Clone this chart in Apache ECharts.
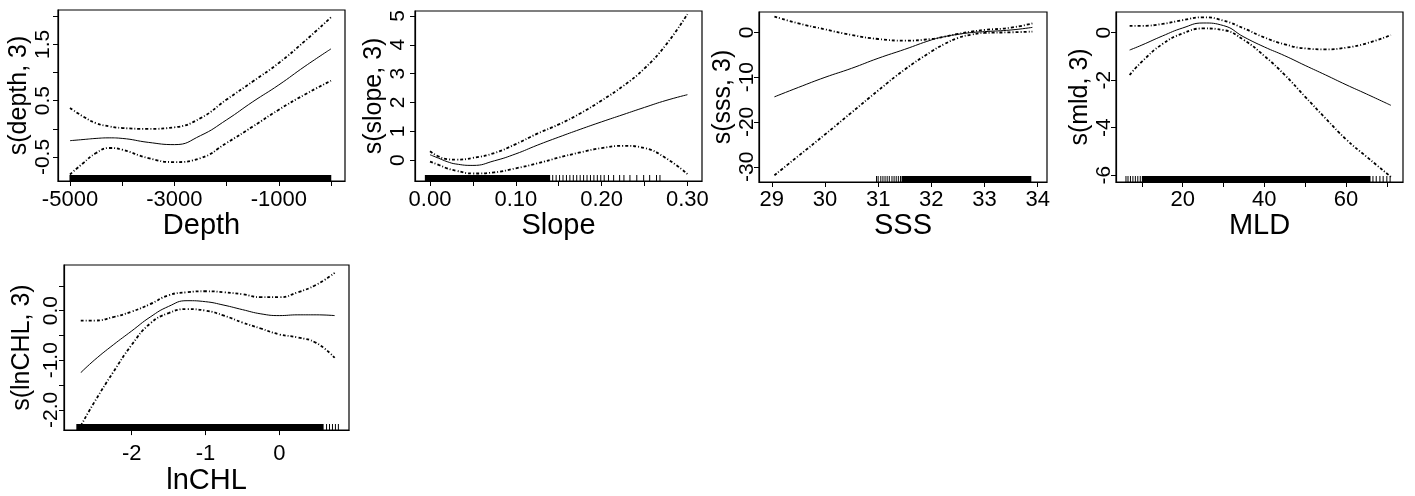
<!DOCTYPE html>
<html>
<head>
<meta charset="utf-8">
<script src="https://cdn.jsdelivr.net/npm/echarts@6/dist/echarts.min.js"></script>
<style>
html,body{margin:0;padding:0;background:#fff;}
#chart{width:1415px;height:496px;}
</style>
</head>
<body>
<div id="chart"></div>
<script>
// ---------- Panel 1: Depth ----------
const depthX     = [-5000,-4750,-4500,-4250,-4000,-3500,-3000,-2500,-2000,-1500,-1000,-500,0];
const depthFit   = [-0.21,-0.19,-0.17,-0.16,-0.17,-0.24,-0.28,-0.12,0.16,0.48,0.78,1.11,1.42];
const depthUpper = [0.37,0.22,0.10,0.045,0.015,0.0,0.027,0.19,0.52,0.84,1.17,1.56,1.98];
const depthLower = [-0.81,-0.61,-0.43,-0.34,-0.37,-0.52,-0.59,-0.52,-0.25,0.04,0.34,0.61,0.855];
const depthRugBands = [[-5010,5]];
const depthRugTicks = [];
const depthXTicks = [-5000,-4000,-3000,-2000,-1000,0];
const depthXLabels = [-5000,-3000,-1000];
const depthYTicks = [-0.5,0,0.5,1,1.5,2];
const depthYLabels = [-0.5,0.5,1.5];

// ---------- Panel 2: Slope ----------
const slopeX     = [0,0.01,0.02,0.03,0.05,0.075,0.10,0.125,0.15,0.175,0.20,0.225,0.25,0.275,0.30];
const slopeFit   = [0.19,0.07,-0.05,-0.13,-0.18,-0.02,0.22,0.52,0.80,1.07,1.33,1.58,1.83,2.07,2.27];
const slopeUpper = [0.31,0.13,0.035,0.02,0.08,0.25,0.56,0.92,1.24,1.62,2.07,2.57,3.18,4.0,5.06];
const slopeLower = [-0.05,-0.16,-0.28,-0.36,-0.46,-0.42,-0.28,-0.11,0.09,0.27,0.42,0.50,0.42,0.07,-0.48];
const slopeRugBands = [[-0.006,0.14]];
const slopeRugTicks = [0.143,0.147,0.151,0.155,0.159,0.163,0.167,0.171,0.175,0.179,0.183,0.187,0.191,0.195,0.199,0.203,0.208,0.214,0.221,0.226,0.233,0.241,0.249,0.256,0.264,0.268];
const slopeXTicks = [0,0.05,0.10,0.15,0.20,0.25,0.30];
const slopeXLabels = [0,0.10,0.20,0.30];
const slopeYTicks = [0,1,2,3,4,5];
const slopeYLabels = [0,1,2,3,4,5];

// ---------- Panel 3: SSS ----------
const sssX     = [29.05,29.5,30,30.5,31,31.5,32,32.25,32.5,32.75,33,33.5,33.9];
const sssFit   = [-14.4,-12.3,-10.05,-8.04,-5.8,-3.8,-1.71,-0.97,-0.45,-0.07,0.15,0.52,1.1];
const sssUpper = [3.5,2.0,0.67,-0.6,-1.49,-1.86,-1.49,-0.97,-0.37,0.15,0.52,1.04,2.0];
const sssLower = [-31.9,-27.6,-22.8,-17.9,-13.0,-8.3,-4.3,-2.6,-1.27,-0.52,-0.15,0.0,0.15];
const sssRugBands = [[31.44,33.88]];
const sssRugTicks = [30.97,31.0,31.05,31.09,31.13,31.17,31.21,31.26,31.3,31.34,31.38,31.42];
const sssXTicks = [29,30,31,32,33,34];
const sssXLabels = [29,30,31,32,33,34];
const sssYTicks = [-30,-20,-10,0];
const sssYLabels = [-30,-20,-10,0];

// ---------- Panel 4: MLD ----------
const mldX     = [7,10,15,20,25,30,35,40,45,50,55,60,65,71];
const mldFit   = [-0.73,-0.52,-0.14,0.20,0.41,0.30,-0.18,-0.6,-0.97,-1.38,-1.78,-2.19,-2.58,-3.06];
const mldUpper = [0.29,0.29,0.37,0.53,0.65,0.51,0.18,-0.2,-0.49,-0.66,-0.70,-0.63,-0.45,-0.1];
const mldLower = [-1.78,-1.22,-0.48,-0.03,0.18,0.11,-0.31,-0.98,-1.78,-2.70,-3.61,-4.49,-5.22,-6.07];
const mldRugBands = [[10,66]];
const mldRugTicks = [6.1,6.6,7.2,7.8,8.4,9.0,9.6,66.6,67.4,68.3,69.1,70.0,70.8];
const mldXTicks = [10,20,30,40,50,60,70];
const mldXLabels = [20,40,60];
const mldYTicks = [-6,-4,-2,0];
const mldYLabels = [-6,-4,-2,0];

// ---------- Panel 5: lnCHL ----------
const chlX     = [-2.69,-2.5,-2.25,-2,-1.75,-1.5,-1.25,-1,-0.75,-0.5,-0.25,0,0.25,0.5,0.75];
const chlFit   = [-1.25,-0.99,-0.69,-0.41,-0.13,0.085,0.2,0.18,0.11,0.02,-0.065,-0.1,-0.085,-0.085,-0.1];
const chlUpper = [-0.2,-0.2,-0.13,-0.02,0.13,0.31,0.37,0.39,0.37,0.33,0.27,0.27,0.37,0.52,0.76];
const chlLower = [-2.32,-1.83,-1.24,-0.69,-0.26,-0.05,0.03,0.0,-0.1,-0.24,-0.36,-0.48,-0.54,-0.65,-0.95];
const chlRugBands = [[-2.75,0.6]];
const chlRugTicks = [0.64,0.68,0.72,0.76,0.80];
const chlXTicks = [-2,-1,0];
const chlXLabels = [-2,-1,0];
const chlYTicks = [-2,-1.5,-1,-0.5,0,0.5];
const chlYLabels = [-2,-1,0];

// ---------- Layout / styling ----------
const FONT = "'Liberation Sans', Arial, sans-serif";
const panels = [
  {grid:{left:58,top:10,width:287,height:171}, xr:[-5230,268], yr:[-0.926,2.11],
   xName:'Depth', yName:'s(depth, 3)', xDec:0, yDec:1,
   x:depthX, fit:depthFit, up:depthUpper, lo:depthLower, bands:depthRugBands, ticks:depthRugTicks,
   xt:depthXTicks, xl:depthXLabels, yt:depthYTicks, yl:depthYLabels,
   xm:8, xg:28, ym:4, yg:21},
  {grid:{left:415,top:11,width:287,height:170}, xr:[-0.0175,0.317], yr:[-0.72,5.17],
   xName:'Slope', yName:'s(slope, 3)', xDec:2, yDec:0,
   x:slopeX, fit:slopeFit, up:slopeUpper, lo:slopeLower, bands:slopeRugBands, ticks:slopeRugTicks,
   xt:slopeXTicks, xl:slopeXLabels, yt:slopeYTicks, yl:slopeYLabels,
   xm:8, xg:28, ym:6, yg:27},
  {grid:{left:759,top:12,width:288,height:170}, xr:[28.76,34.175], yr:[-33.4,4.53],
   xName:'SSS', yName:'s(sss, 3)', xDec:0, yDec:0,
   x:sssX, fit:sssFit, up:sssUpper, lo:sssLower, bands:sssRugBands, ticks:sssRugTicks,
   xt:sssXTicks, xl:sssXLabels, yt:sssYTicks, yl:sssYLabels,
   xm:7, xg:28, ym:1, yg:21},
  {grid:{left:1116,top:12,width:287,height:170}, xr:[3.66,73.96], yr:[-6.29,0.873],
   xName:'MLD', yName:'s(mld, 3)', xDec:0, yDec:0,
   x:mldX, fit:mldFit, up:mldUpper, lo:mldLower, bands:mldRugBands, ticks:mldRugTicks,
   xt:mldXTicks, xl:mldXLabels, yt:mldYTicks, yl:mldYLabels,
   xm:7, xg:28, ym:1, yg:20},
  {grid:{left:64,top:265,width:285,height:169}, xr:[-2.917,0.944], yr:[-2.407,0.919],
   xName:'lnCHL', yName:'s(lnCHL, 3)', xDec:0, yDec:1,
   x:chlX, fit:chlFit, up:chlUpper, lo:chlLower, bands:chlRugBands, ticks:chlRugTicks,
   xt:chlXTicks, xl:chlXLabels, yt:chlYTicks, yl:chlYLabels,
   xm:13, xg:32, ym:2, yg:29}
];

const grids = [], xAxes = [], yAxes = [], series = [];
const bandStyle = {color:'#000', width:1.8, type:[3,2,1,2]};

panels.forEach((p, i) => {
  grids.push(Object.assign({show:true, borderColor:'#000', borderWidth:1.2, backgroundColor:'#fff'}, p.grid));
  xAxes.push({
    type:'value', gridIndex:i, min:p.xr[0], max:p.xr[1],
    name:p.xName, nameLocation:'middle', nameGap:p.xg,
    nameTextStyle:{fontFamily:FONT, fontSize:29, color:'#000'},
    axisLine:{show:true, onZero:false, lineStyle:{color:'#000', width:1.2}},
    axisTick:{show:true, inside:false, length:5, customValues:p.xt, lineStyle:{color:'#000', width:1}},
    axisLabel:{show:true, margin:p.xm, customValues:p.xl, fontFamily:FONT, fontSize:22, color:'#000',
      hideOverlap:false, formatter:(v)=>Number(v).toFixed(p.xDec)},
    splitLine:{show:false}
  });
  yAxes.push({
    type:'value', gridIndex:i, min:p.yr[0], max:p.yr[1],
    name:p.yName, nameLocation:'middle', nameGap:p.yg,
    nameTextStyle:{fontFamily:FONT, fontSize:25, color:'#000'},
    axisLine:{show:true, onZero:false, lineStyle:{color:'#000', width:1.2}},
    axisTick:{show:true, inside:false, length:5, customValues:p.yt, lineStyle:{color:'#000', width:1}},
    axisLabel:{show:true, rotate:90, margin:p.ym, customValues:p.yl, fontFamily:FONT, fontSize:21, color:'#000',
      hideOverlap:false, formatter:(v)=>Number(v).toFixed(p.yDec)},
    splitLine:{show:false}
  });
  const pts = (ys) => p.x.map((x, k) => [x, ys[k]]);
  series.push({type:'line', xAxisIndex:i, yAxisIndex:i, data:pts(p.fit), smooth:0.5, showSymbol:false,
    lineStyle:{color:'#000', width:1}, silent:true, z:3});
  series.push({type:'line', xAxisIndex:i, yAxisIndex:i, data:pts(p.up), smooth:0.5, showSymbol:false,
    lineStyle:bandStyle, silent:true, z:3});
  series.push({type:'line', xAxisIndex:i, yAxisIndex:i, data:pts(p.lo), smooth:0.5, showSymbol:false,
    lineStyle:bandStyle, silent:true, z:3});
  const rugData = p.bands.map(b => [b[0], b[1]]).concat(p.ticks.map(t => [t, t]));
  const yMin = p.yr[0];
  series.push({type:'custom', xAxisIndex:i, yAxisIndex:i, data:rugData, silent:true, z:2,
    encode:{x:[0,1]},
    renderItem:(params, api) => {
      const a = api.coord([api.value(0), yMin]);
      const b = api.coord([api.value(1), yMin]);
      const w = Math.max(1, b[0] - a[0]);
      return {type:'rect', shape:{x:a[0] - (w === 1 ? 0.5 : 0), y:a[1] - 6, width:w, height:6},
        style:{fill:'#000'}};
    }
  });
});

const chart = echarts.init(document.getElementById('chart'), null, {renderer:'canvas'});
chart.setOption({
  animation:false,
  backgroundColor:'#fff',
  grid:grids, xAxis:xAxes, yAxis:yAxes, series:series
});
</script>
</body>
</html>
